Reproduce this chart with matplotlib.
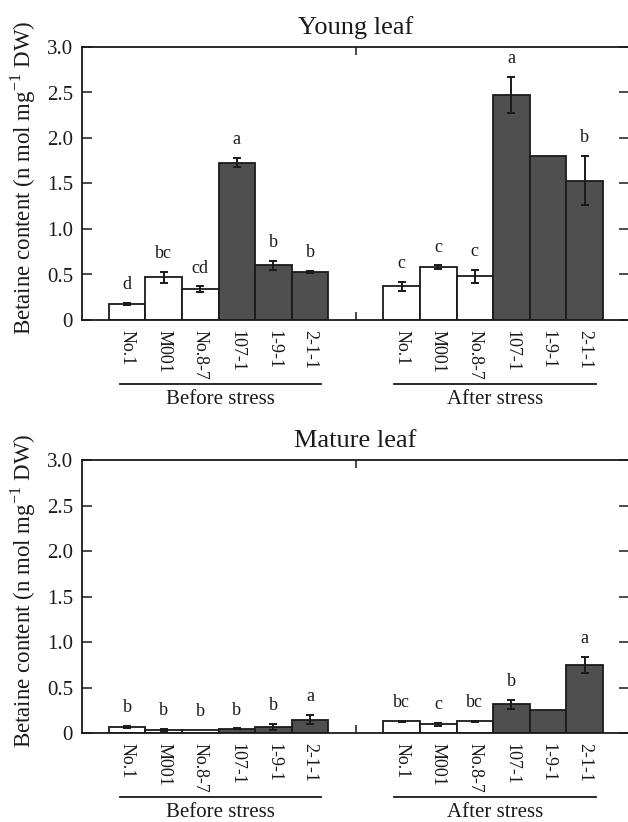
import numpy as np
import matplotlib
matplotlib.use("Agg")
import matplotlib.pyplot as plt
from matplotlib.transforms import blended_transform_factory

plt.rcParams['font.family'] = ['Liberation Serif', 'DejaVu Serif']
plt.rcParams['mathtext.fontset'] = 'custom'
plt.rcParams['mathtext.rm'] = 'Liberation Serif'

categories = ["No.1", "M001", "No.8-7", "107-1", "1-9-1", "2-1-1"]
groups = ["Before stress", "After stress"]
transgenic = [False, False, False, True, True, True]

young_before = [0.18, 0.47, 0.34, 1.73, 0.60, 0.53]
young_before_err = [0.01, 0.06, 0.03, 0.05, 0.05, 0.01]
young_before_sig = ["d", "bc", "cd", "a", "b", "b"]
young_after = [0.37, 0.58, 0.48, 2.47, 1.80, 1.53]
young_after_err = [0.05, 0.02, 0.07, 0.20, 0.0, 0.27]
young_after_sig = ["c", "c", "c", "a", "", "b"]

mature_before = [0.07, 0.04, 0.04, 0.05, 0.07, 0.15]
mature_before_err = [0.01, 0.01, 0.0, 0.005, 0.03, 0.05]
mature_before_sig = ["b", "b", "b", "b", "b", "a"]
mature_after = [0.13, 0.10, 0.13, 0.32, 0.26, 0.75]
mature_after_err = [0.01, 0.015, 0.01, 0.05, 0.0, 0.09]
mature_after_sig = ["bc", "c", "bc", "b", "", "a"]

yticks = [0, 0.5, 1.0, 1.5, 2.0, 2.5, 3.0]
yticklabels = ["0", "0.5", "1.0", "1.5", "2.0", "2.5", "3.0"]

DARK = "#4f4f4f"
INK = "#1a1a1a"

fig = plt.figure(figsize=(6.28, 8.22), dpi=100)

def panel(rect, title, before, before_err, before_sig, after, after_err, after_sig):
    ax = fig.add_axes(rect)
    n = len(categories)
    xb = np.arange(n)
    xa = np.arange(n) + 7.5
    trans = blended_transform_factory(ax.transData, ax.transAxes)
    for xs, vals, errs, sigs in [(xb, before, before_err, before_sig),
                                 (xa, after, after_err, after_sig)]:
        colors = [DARK if t else "white" for t in transgenic]
        ax.bar(xs, vals, width=1.0, color=colors, edgecolor=INK, linewidth=1.3, zorder=2)
        for x, v, e, s in zip(xs, vals, errs, sigs):
            if e > 0:
                ax.errorbar(x, v, yerr=e, fmt='none', ecolor=INK, elinewidth=1.4,
                            capsize=2.7, capthick=1.4, zorder=3)
            if s:
                ax.text(x, v + e + 0.2, s, ha='center', va='center', fontsize=13, color=INK)
        x0, x1 = xs[0] - 0.2, xs[-1] + 0.3
        ax.plot([x0, x1], [-0.235, -0.235], transform=trans, color=INK, lw=1.3,
                clip_on=False)
    ax.text((xb[0] - 0.2 + xb[-1] + 0.3) / 2, -0.29, groups[0], transform=trans,
            ha='center', va='center', fontsize=15, color=INK)
    ax.text((xa[0] - 0.2 + xa[-1] + 0.3) / 2, -0.29, groups[1], transform=trans,
            ha='center', va='center', fontsize=15, color=INK)

    ax.set_xlim(-1.23, 13.71)
    ax.set_ylim(0, 3.0)
    ax.set_yticks(yticks)
    ax.set_yticklabels(yticklabels, fontsize=15, color=INK)
    ax.tick_params(axis='y', direction='in', length=7.5, width=1.1, right=True,
                   pad=6.5, colors=INK)
    ax.set_xticks(list(xb) + list(xa))
    ax.set_xticklabels(categories + categories, rotation=-90, fontsize=13,
                       ha='center', va='top', color=INK)
    ax.tick_params(axis='x', which='major', length=0, pad=7)
    ax.set_xticks([6.245], minor=True)
    ax.tick_params(axis='x', which='minor', direction='in', length=6, width=1.1,
                   top=True, bottom=True, colors=INK)
    for sp in ax.spines.values():
        sp.set_linewidth(1.3)
        sp.set_color(INK)
    ax.set_title(title, fontsize=19, pad=9.4, color=INK)
    ax.text(-0.107, 0.52, "Betaine content (n mol mg$^{\\mathregular{-1}}$ DW)",
            transform=ax.transAxes, rotation=90, ha='center', va='center',
            fontsize=16.5, color=INK)
    return ax

panel([82 / 628, (822 - 320) / 822, 547 / 628, 273 / 822], "Young leaf",
      young_before, young_before_err, young_before_sig,
      young_after, young_after_err, young_after_sig)
panel([82 / 628, (822 - 733.3) / 822, 547 / 628, 273 / 822], "Mature leaf",
      mature_before, mature_before_err, mature_before_sig,
      mature_after, mature_after_err, mature_after_sig)

fig.savefig("out.png", dpi=100, facecolor="white")
